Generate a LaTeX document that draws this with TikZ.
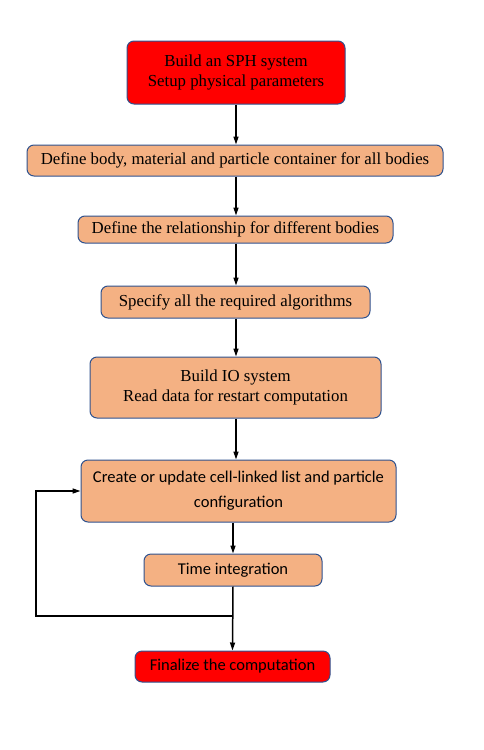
\documentclass[tikz,border=0pt]{standalone}
\usepackage{fontspec}
\setmainfont{Liberation Serif}
\newfontfamily\calibri{Carlito}
\usetikzlibrary{arrows.meta}

\definecolor{boxline}{HTML}{2F528F}
\definecolor{stagefill}{HTML}{F4B183}
\definecolor{endfill}{HTML}{FF0000}

\tikzset{
    stage/.style={draw=boxline, line width=1pt, rounded corners=7pt,
        fill=stagefill, align=center, inner sep=0pt,
        font=\fontsize{16.8}{20}\selectfont},
    terminal/.style={stage, fill=endfill},
    sans/.style={font=\calibri\fontsize{16.5}{25}\selectfont},
    flow/.style={line width=1.5pt, -{Triangle[length=8pt,width=5pt]}}
}

\begin{document}
\begin{tikzpicture}[x=1pt, y=-1pt]
\useasboundingbox (0,0) rectangle (484,750);

% set-up stages
\node[terminal, minimum width=218pt, minimum height=63pt] (sph) at (236,72.5)
    {Build an SPH system\\Setup physical parameters};
\node[stage, minimum width=416pt, minimum height=31pt] (bodies) at (235,160.5)
    {Define body, material and particle container for all bodies};
\node[stage, minimum width=315pt, minimum height=27pt] (relation) at (235.5,229.5)
    {Define the relationship for different bodies};
\node[stage, minimum width=269pt, minimum height=32pt] (algos) at (235.5,302)
    {Specify all the required algorithms};
\node[stage, minimum width=291pt, minimum height=61pt] (io) at (235.5,387.5)
    {Build IO system\\Read data for restart computation};

% time loop
\node[stage, sans, minimum width=315pt, minimum height=62pt] (cells) at (238.5,491)
    {Create or update cell-linked list and particle\\configuration};
\node[stage, sans, minimum width=178pt, minimum height=32pt] (time) at (233,570)
    {Time integration};
\node[terminal, sans, minimum width=195pt, minimum height=31pt] (final) at (232.5,666.5)
    {Finalize the computation};

\coordinate (joint) at (233,616);
\coordinate (back) at (36,616);

\draw[flow] (sph.south) -- (sph.south |- bodies.north);
\draw[flow] (sph.south |- bodies.south) -- (sph.south |- relation.north);
\draw[flow] (sph.south |- relation.south) -- (sph.south |- algos.north);
\draw[flow] (sph.south |- algos.south) -- (sph.south |- io.north);
\draw[flow] (sph.south |- io.south) -- (sph.south |- cells.north);
\draw[flow] (time.north |- cells.south) -- (time.north);
\draw[flow] (time.south) -- (final.north);
\draw[flow] (joint) -- (back) |- (cells.west);

\end{tikzpicture}
\end{document}
